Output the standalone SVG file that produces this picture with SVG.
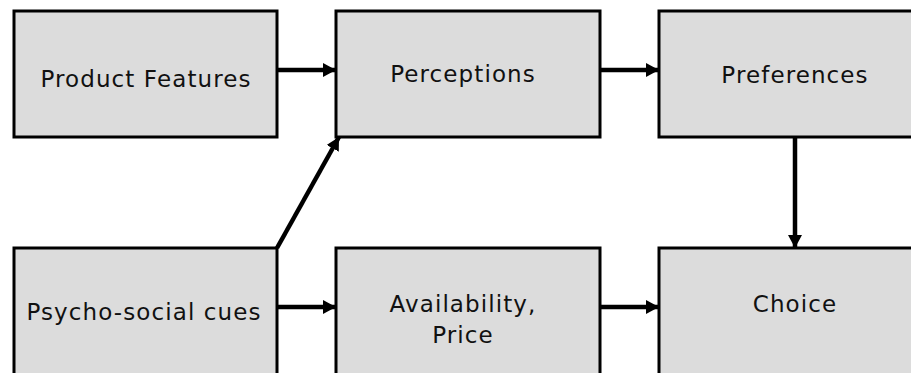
<svg xmlns="http://www.w3.org/2000/svg" width="911" height="373" viewBox="0 0 911 373">
<defs>
<style>
.box{fill:#dcdcdc;stroke:#000;stroke-width:3}
.lbl{font-family:"DejaVu Sans",Verdana,sans-serif;font-size:23px;letter-spacing:1.1px;fill:#111;text-anchor:middle}
.con{stroke:#000;stroke-width:4.5;fill:none}
</style>
<marker id="ah" viewBox="0 0 13 14" refX="13" refY="7" markerWidth="13" markerHeight="14" markerUnits="userSpaceOnUse" orient="auto">
<path d="M0,0 L13,7 L0,14 Z" fill="#000"/>
</marker>
</defs>
<rect width="911" height="373" fill="#fff"/>
<g id="product-features"><rect class="box" x="14" y="11" width="263" height="126"/><text class="lbl" x="146" y="87">Product Features</text></g>
<g id="perceptions"><rect class="box" x="336" y="11" width="264" height="126"/><text class="lbl" x="463" y="82">Perceptions</text></g>
<g id="preferences"><rect class="box" x="659" y="11" width="262" height="126"/><text class="lbl" x="795" y="83">Preferences</text></g>
<g id="psycho-social"><rect class="box" x="14" y="248" width="263" height="140"/><text class="lbl" x="144" y="320">Psycho-social cues</text></g>
<g id="availability"><rect class="box" x="336" y="248" width="264" height="140"/><text class="lbl" x="463" y="312">Availability,</text><text class="lbl" x="463" y="343">Price</text></g>
<g id="choice"><rect class="box" x="659" y="248" width="262" height="140"/><text class="lbl" x="795" y="312">Choice</text></g>
<g id="connectors">
<line class="con" x1="278" y1="70" x2="336" y2="70" marker-end="url(#ah)"/>
<line class="con" x1="601" y1="70" x2="659" y2="70" marker-end="url(#ah)"/>
<line class="con" x1="795" y1="138" x2="795" y2="248" marker-end="url(#ah)"/>
<line class="con" x1="278" y1="307" x2="336" y2="307" marker-end="url(#ah)"/>
<line class="con" x1="601" y1="307" x2="659" y2="307" marker-end="url(#ah)"/>
<line class="con" x1="277" y1="248" x2="339" y2="137" marker-end="url(#ah)"/>
</g>
</svg>
